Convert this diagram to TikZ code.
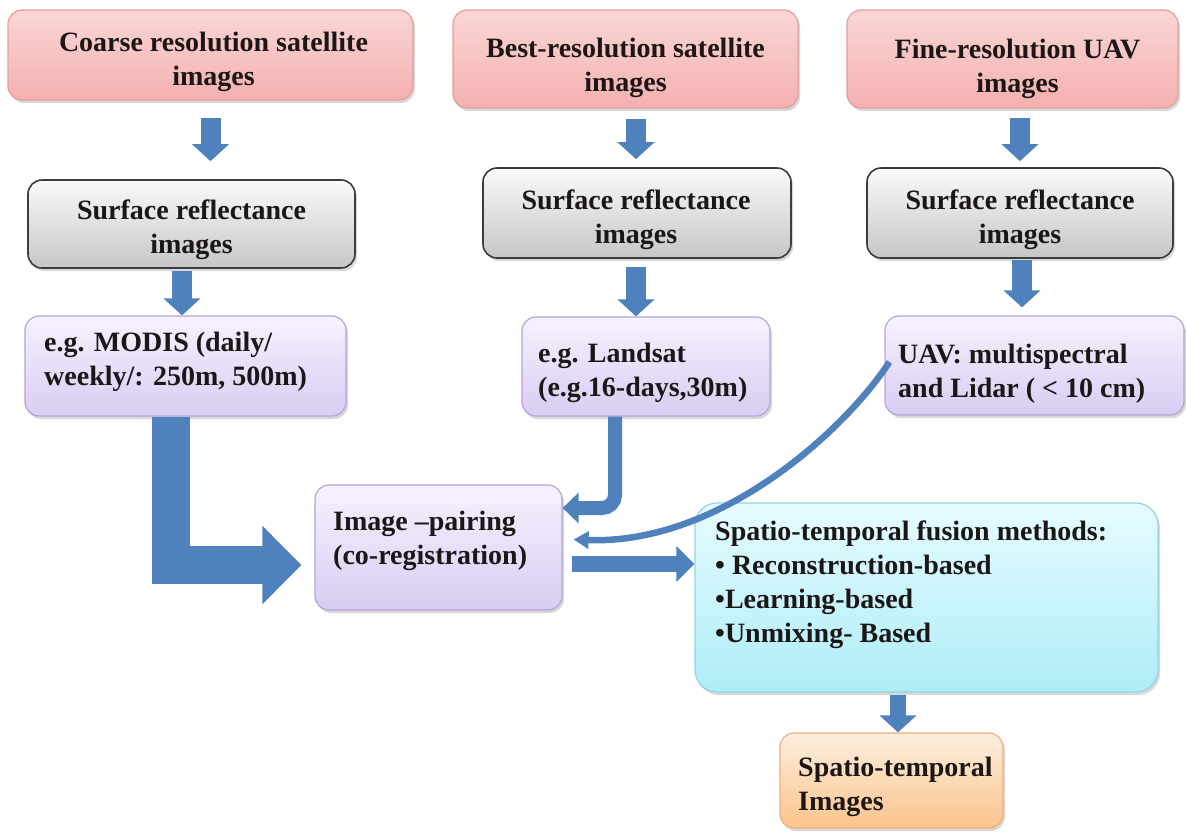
\documentclass[tikz,border=0pt]{standalone}
\usepackage{fontspec}
\setmainfont{Liberation Serif}
\usetikzlibrary{arrows.meta,calc,shadows}

% palette
\definecolor{pinktop}{HTML}{FBD6D6}
\definecolor{pinkbot}{HTML}{F4B0B0}
\definecolor{pinkline}{HTML}{E59C9C}
\definecolor{graytop}{HTML}{FAFAFA}
\definecolor{graybot}{HTML}{C6C6C6}
\definecolor{grayline}{HTML}{3C3C3C}
\definecolor{lilactop}{HTML}{F7F2FF}
\definecolor{lilacbot}{HTML}{D9CCF2}
\definecolor{lilacline}{HTML}{B4A3DA}
\definecolor{cyantop}{HTML}{E6FCFF}
\definecolor{cyanbot}{HTML}{AEEDF8}
\definecolor{cyanline}{HTML}{92D3E3}
\definecolor{orangetop}{HTML}{FDEEDF}
\definecolor{orangebot}{HTML}{FBC48C}
\definecolor{orangeline}{HTML}{F0B07A}
\definecolor{flowblue}{HTML}{4F81BD}
\definecolor{inktext}{HTML}{1C1717}

\begin{document}
\begin{tikzpicture}[x=1pt,y=-1pt,
  font=\fontsize{28}{34}\selectfont\bfseries,
  box/.style={rounded corners=14pt, line width=1.2pt, inner sep=0pt,
    drop shadow={shadow xshift=2pt,shadow yshift=-3pt,opacity=.22,fill=black!70}},
  pinkbox/.style={box, draw=pinkline, top color=pinktop, bottom color=pinkbot},
  graybox/.style={box, draw=grayline, line width=1.6pt, top color=graytop, bottom color=graybot},
  lilacbox/.style={box, draw=lilacline, top color=lilactop, bottom color=lilacbot},
  cyanbox/.style={box, draw=cyanline, rounded corners=22pt, top color=cyantop, bottom color=cyanbot},
  orangebox/.style={box, draw=orangeline, top color=orangetop, bottom color=orangebot},
  ctext/.style={inner sep=0pt, text=inktext, align=center},
  lbl/.style={inner sep=0pt, text=inktext, align=left, anchor=west},
  small/.style={draw=flowblue, line width=20pt,
    -{Triangle[width=36pt,length=17pt]}},
  ]
\useasboundingbox (0,0) rectangle (1186,831);

% source images
\node[pinkbox, minimum width=405pt, minimum height=90pt] (b1) at (210.5,55) {};
\node[ctext] (b1t) at (213.5,61.5) {Coarse resolution satellite\\images};
\node[pinkbox, minimum width=345pt, minimum height=98pt] (b2) at (625.5,59) {};
\node[ctext] (b2t) at (625.5,68) {Best-resolution satellite\\images};
\node[pinkbox, minimum width=331pt, minimum height=98pt] (b3) at (1012.5,59) {};
\node[ctext] (b3t) at (1017.5,69) {Fine-resolution UAV\\images};

% surface reflectance
\node[graybox, minimum width=327pt, minimum height=88pt] (g1) at (191.5,224) {};
\node[ctext] (g1t) at (191.5,229.5) {Surface reflectance\\images};
\node[graybox, minimum width=308pt, minimum height=90pt] (g2) at (637,213) {};
\node[ctext] (g2t) at (636,219.5) {Surface reflectance\\images};
\node[graybox, minimum width=306pt, minimum height=90pt] (g3) at (1020,213) {};
\node[ctext] (g3t) at (1020,219.5) {Surface reflectance\\images};

% sensors
\node[lilacbox, minimum width=321pt, minimum height=100pt] (modis) at (185.5,366) {};
\node[lbl] (modist) at (44,361.5) {e.g. MODIS (daily/\\weekly/: 250m, 500m)};
\node[lilacbox, minimum width=248pt, minimum height=99pt] (landsat) at (646,366.5) {};
\node[lbl] (landsatt) at (538,372.5) {e.g. Landsat\\(e.g.16-days,30m)};
\node[lilacbox, minimum width=299pt, minimum height=99pt] (uav) at (1034.5,365.5) {};
\node[lbl] (uavt) at (898,373.5) {UAV: multispectral\\and Lidar ( < 10 cm)};

% pairing, fusion, output
\node[lilacbox, minimum width=247pt, minimum height=125pt] (pair) at (438.5,547.5) {};
\node[lbl] (pairt) at (333,540.5) {Image –pairing\\(co-registration)};
\node[cyanbox, minimum width=463pt, minimum height=189pt] (fus) at (926.5,597.5) {};
\node[lbl] (fust) at (715,584.5) {Spatio-temporal fusion methods:\\%
  • Reconstruction-based\\•Learning-based\\•Unmixing- Based};
\node[orangebox, minimum width=223pt, minimum height=95pt] (out) at (891.5,780.5) {};
\node[lbl] (outt) at (798,787) {Spatio-temporal\\Images};

% short block arrows between rows
\draw[small] ($(b1.south)+(0,17)$) -- ($(g1.north)+(19,-18)$);
\draw[small] ($(b2.south)+(10.5,10)$) -- ($(g2.north)+(-1,-8)$);
\draw[small] ($(b3.south)+(7.5,9)$) -- ($(g3.north)+(0,-6)$);
\draw[small] ($(g1.south)+(-9.5,2)$) -- ($(modis.north)+(-3.5,0)$);
\draw[small] ($(g2.south)+(-1,8)$) -- ($(landsat.north)+(-10,0)$);
\draw[small] ($(g3.south)+(2,1)$) -- ($(uav.north)+(-12.5,-8)$);
\draw[small, line width=16pt] ($(fus.south)+(-28.5,2)$) -- ($(out.north)+(6.5,0)$);

% MODIS into pairing: wide elbow arrow
\draw[draw=flowblue, line width=38pt, line join=miter,
  -{Triangle[width=76pt,length=39pt]}]
  ($(modis.south)+(-14.5,0)$) |- ($(pair.west)+(-13,17.5)$);

% Landsat into pairing: rounded hook arrow
\draw[draw=flowblue, line width=14pt, rounded corners=13pt,
  -{Triangle[width=30pt,length=16pt]}]
  ($(landsat.south)+(-31,0)$) |- ($(pair.east)+(0,-39.5)$);

% pairing to fusion
\draw[draw=flowblue, line width=16pt,
  -{Triangle[width=35pt,length=18pt]}]
  ($(pair.east)+(9,16.5)$) -- ($(fus.west)+(0,-33.5)$);

% UAV into pairing: curved arrow
\draw[draw=flowblue, line width=6.5pt,
  -{Triangle[width=17pt,length=15pt]}]
  ($(uav.west)+(5,-3.5)$) .. controls (845,430) and (720,545) .. ($(pair.east)+(11,-8)$);
\end{tikzpicture}
\end{document}
